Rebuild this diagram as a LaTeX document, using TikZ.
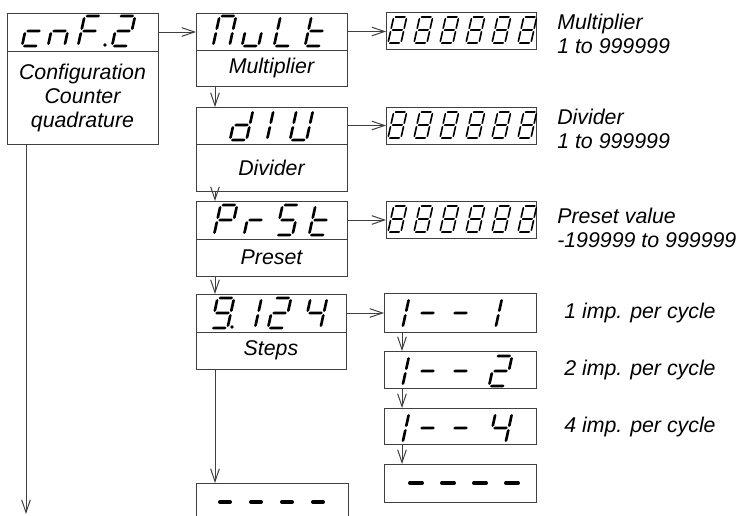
\documentclass[tikz,border=0pt]{standalone}
\usepackage{fontspec}
\setmainfont{Liberation Sans}
\usetikzlibrary{arrows.meta,fit}
\definecolor{linec}{gray}{0.25}
\def\slantv{0.22}
\def\sgg{0.035}
\def\sgt{0.05}
\def\hseg#1#2#3{(#1,#3)--(#1+\sgt,#3+\sgt)--(#2-\sgt,#3+\sgt)--(#2,#3)--(#2-\sgt,#3-\sgt)--(#1+\sgt,#3-\sgt)--cycle}
\def\vseg#1#2#3{(#1,#2)--(#1+\sgt,#2-\sgt)--(#1+\sgt,#3+\sgt)--(#1,#3)--(#1-\sgt,#3+\sgt)--(#1-\sgt,#2-\sgt)--cycle}
\expandafter\def\csname sgpa\endcsname{\hseg{\sgg}{\w-\sgg}{1}}
\expandafter\def\csname sgpb\endcsname{\vseg{\w}{1-\sgg}{0.5+\sgg}}
\expandafter\def\csname sgpc\endcsname{\vseg{\w}{0.5-\sgg}{\sgg}}
\expandafter\def\csname sgpd\endcsname{\hseg{\sgg}{\w-\sgg}{0}}
\expandafter\def\csname sgpe\endcsname{\vseg{0}{0.5-\sgg}{\sgg}}
\expandafter\def\csname sgpf\endcsname{\vseg{0}{1-\sgg}{0.5+\sgg}}
\expandafter\def\csname sgpg\endcsname{\hseg{\sgg}{\w-\sgg}{0.5}}
% #1 x0, #2 baseline y, #3 height, #4 width ratio, #5 segments, #6 half thickness
\newcommand\sdig[6]{%
  \begin{scope}[shift={(#1,#2)},x={(#3*0.75pt,0pt)},y={(\slantv*#3*0.75pt,#3*0.75pt)}]
    \def\w{#4}\def\sgt{#6}%
    \foreach \sg in {#5}{\expandafter\let\expandafter\sgpath\csname sgp\sg\endcsname\fill[black] \sgpath;}
  \end{scope}}
\newcommand\lblfont{\fontsize{16pt}{18pt}\selectfont\itshape}
\begin{document}
\begin{tikzpicture}[x=0.75pt,y=-0.75pt,
  frame/.style={draw=linec,line width=0.75pt,inner sep=0pt,outer sep=0pt},
  lbl/.style={font=\lblfont,inner sep=0pt},
  note/.style={font=\lblfont,anchor=west,align=left,inner sep=0pt},
  arr/.style={draw=linec,line width=0.75pt,-{Straight Barb[length=9.5pt,width=6.5pt]}},
  dashbold/.style={line width=3pt,line cap=round}]
\useasboundingbox (0,0) rectangle (736,515);
\clip (0,0) rectangle (736,515);

% left column boxes
\node[frame,fit={(7,13)(158,51)}] (cnfD) {};
\node[frame,fit={(7,51)(158,144)}] (cnfL) {};
\node[frame,fit={(196,13)(347,50)}] (multD) {};
\node[frame,fit={(196,50)(347,86)}] (multL) {};
\node[frame,fit={(196,107)(347,144)}] (divD) {};
\node[frame,fit={(196,144)(347,191)}] (divL) {};
\node[frame,fit={(196,201)(347,239)}] (preD) {};
\node[frame,fit={(196,239)(347,276)}] (preL) {};
\node[frame,fit={(196,294)(346,332)}] (stpD) {};
\node[frame,fit={(196,332)(346,369)}] (stpL) {};
\node[frame,fit={(196,483)(348,540)}] (botD) {};

% labels inside boxes
\node[lbl,align=center] (cnfT) at (cnfL.center) {Configuration\\Counter\\quadrature};
\node[lbl] (multT) at (multL.center) {Multiplier};
\node[lbl] (divT) at (divL.center) {Divider};
\node[lbl] (preT) at (preL.center) {Preset};
\node[lbl] (stpT) at (stpL.center) {Steps};

% value displays
\node[frame,fit={(386,12)(536,49)}] (val1) {};
\node[frame,fit={(386,107)(536,144)}] (val2) {};
\node[frame,fit={(386,201)(536,238)}] (val3) {};

% step options
\node[frame,fit={(384,293)(536,332)}] (opt1) {};
\node[frame,fit={(384,351)(536,388)}] (opt2) {};
\node[frame,fit={(384,408)(536,444)}] (opt3) {};
\node[frame,fit={(384,464)(536,502)}] (opt4) {};

% notes
\node[note] (n1) at (557,34) {Multiplier\\1 to 999999};
\node[note] (n2) at (557,129) {Divider\\1 to 999999};
\node[note] (n3) at (557,228) {Preset value\\-199999 to 999999};
\node[note] (n4) at (564,313) {1 imp. per cycle};
\node[note] (n5) at (564,370) {2 imp. per cycle};
\node[note] (n6) at (564,427) {4 imp. per cycle};

% connectors
\coordinate (cnfEnd) at (26,514);
\draw[arr] ([xshift=14.25pt]cnfL.south west) -- (cnfEnd);
\draw[arr] (cnfD.east) -- (cnfD.east -| multD.west);
\draw[arr] (multD.east) -- (multD.east -| val1.west);
\draw[arr] (divD.east) -- (divD.east -| val2.west);
\draw[arr] (preD.east) -- (preD.east -| val3.west);
\draw[arr] (stpD.east) -- (stpD.east -| opt1.west);
\draw[arr] ([xshift=14.25pt]multL.south west) -- ([xshift=14.25pt]divD.north west);
\draw[arr] ([xshift=14.25pt]divL.south west) -- ([xshift=14.25pt]preD.north west);
\draw[arr] ([xshift=14.25pt]preL.south west) -- ([xshift=14.25pt]stpD.north west);
\draw[arr] ([xshift=14.25pt]stpL.south west) -- ([xshift=14.25pt]botD.north west);
\draw[arr] ([xshift=13.5pt]opt1.south west) -- ([xshift=13.5pt]opt2.north west);
\draw[arr] ([xshift=13.5pt]opt2.south west) -- ([xshift=13.5pt]opt3.north west);
\draw[arr] ([xshift=13.5pt]opt3.south west) -- ([xshift=13.5pt]opt4.north west);

% seven segment texts
% cnF.2
\sdig{22}{46}{30}{0.55}{d,e,g}{0.045}
\sdig{48}{46}{30}{0.55}{c,e,g}{0.045}
\sdig{78}{46}{30}{0.55}{a,e,f,g}{0.045}
\fill (105,45) circle[radius=1.4pt];
\sdig{112}{46}{30}{0.55}{a,b,g,e,d}{0.045}
% MuLt
\sdig{213}{46}{30}{0.55}{a,b,c,e,f}{0.045}
\sdig{242}{46}{30}{0.55}{c,d,e}{0.045}
\sdig{274}{46}{30}{0.55}{d,e,f}{0.045}
\sdig{305}{46}{30}{0.55}{d,e,f,g}{0.045}
% dIU
\sdig{230}{140}{30}{0.55}{b,c,d,e,g}{0.045}
\sdig{267}{140}{30}{0.55}{e,f}{0.045}
\sdig{290}{140}{30}{0.55}{b,c,d,e,f}{0.045}
% PrSt
\sdig{214}{235}{30}{0.55}{a,b,e,f,g}{0.045}
\sdig{244}{235}{30}{0.55}{e,g}{0.045}
\sdig{276}{235}{30}{0.55}{a,c,d,f,g}{0.045}
\sdig{309}{235}{30}{0.55}{d,e,f,g}{0.045}
% 9.124
\sdig{211}{328}{30}{0.55}{a,b,c,d,f,g}{0.045}
\fill (232,327) circle[radius=1.4pt];
\sdig{238.5}{328}{30}{0.55}{b,c}{0.045}
\sdig{268}{328}{30}{0.55}{a,b,g,e,d}{0.045}
\sdig{304}{328}{30}{0.55}{b,c,f,g}{0.045}
% 888888 x3
\foreach \yb in {43,138,232}{
  \foreach \i in {0,...,5}{
    \sdig{388+26*\i}{\yb}{26}{0.5}{a,b,c,d,e,f,g}{0.032}
  }
}
% 1--1
\sdig{386}{328}{30}{0.55}{b,c}{0.045}
\sdig{416}{328}{30}{0.55}{g}{0.045}
\sdig{449}{328}{30}{0.55}{g}{0.045}
\sdig{479}{328}{30}{0.55}{b,c}{0.045}
% 1--2
\sdig{386}{386}{30}{0.55}{b,c}{0.045}
\sdig{416}{386}{30}{0.55}{g}{0.045}
\sdig{449}{386}{30}{0.55}{g}{0.045}
\sdig{489}{386}{30}{0.55}{a,b,g,e,d}{0.045}
% 1--4
\sdig{386}{443}{30}{0.55}{b,c}{0.045}
\sdig{416}{443}{30}{0.55}{g}{0.045}
\sdig{449}{443}{30}{0.55}{g}{0.045}
\sdig{489}{443}{30}{0.55}{b,c,f,g}{0.045}
% ---- in options
\foreach \xx in {410,442,474,506}{\draw[dashbold] (\xx,483) -- (\xx+12,483);}
% ---- bottom box
\foreach \xx in {220,251,282,313}{\draw[dashbold] (\xx,502) -- (\xx+10,502);}
\end{tikzpicture}
\end{document}
